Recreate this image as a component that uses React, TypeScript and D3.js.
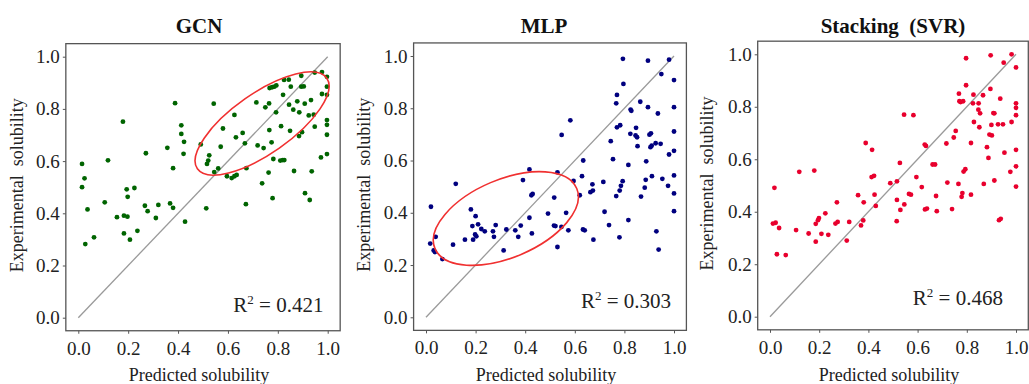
import React, { useEffect, useRef } from 'react';
import * as d3 from 'd3';

type Pt = [number, number]; // [predicted, experimental]

const panelTitles = ['GCN', 'MLP', 'Stacking (SVR)'];
const r2Values = ['0.421', '0.303', '0.468'];
const tickValues = [0, 0.2, 0.4, 0.6, 0.8, 1.0];
const xLabel = 'Predicted solubility';
const yLabel = 'Experimental  solubility';

const gcnPoints: Pt[] = [
  [0.015, 0.589], [0.025, 0.534], [0.119, 0.603], [0.179, 0.751], [0.271, 0.630], [0.357, 0.651],
  [0.380, 0.573], [0.388, 0.822], [0.413, 0.737], [0.413, 0.704], [0.424, 0.674], [0.422, 0.628],
  [0.491, 0.664], [0.543, 0.820], [0.525, 0.622], [0.521, 0.602], [0.516, 0.589], [0.545, 0.558],
  [0.561, 0.572], [0.571, 0.655], [0.580, 0.725], [0.626, 0.777], [0.632, 0.691], [0.659, 0.708],
  [0.668, 0.668], [0.674, 0.573], [0.714, 0.825], [0.719, 0.660], [0.743, 0.650], [0.750, 0.806],
  [0.765, 0.821], [0.767, 0.880], [0.777, 0.883], [0.786, 0.885], [0.794, 0.890], [0.766, 0.719],
  [0.775, 0.672], [0.782, 0.608], [0.793, 0.787], [0.813, 0.734], [0.821, 0.854], [0.825, 0.911],
  [0.844, 0.912], [0.845, 0.816], [0.852, 0.885], [0.862, 0.797], [0.849, 0.716], [0.820, 0.604],
  [0.810, 0.602], [0.826, 0.604], [0.886, 0.787], [0.878, 0.829], [0.894, 0.927], [0.894, 0.885],
  [0.904, 0.886], [0.908, 0.820], [0.933, 0.834], [0.885, 0.696], [0.897, 0.711], [0.865, 0.562],
  [0.924, 0.775], [0.944, 0.778], [0.948, 0.939], [0.977, 0.941], [0.997, 0.923], [0.997, 0.885],
  [0.977, 0.857], [0.997, 0.854], [0.948, 0.732], [0.997, 0.757], [0.997, 0.739], [0.997, 0.701],
  [0.997, 0.627], [0.973, 0.614], [0.936, 0.561], [0.763, 0.556], [0.596, 0.542], [0.615, 0.535],
  [0.626, 0.542], [0.635, 0.547], [0.737, 0.515],
  [0.015, 0.500], [0.037, 0.415], [0.028, 0.282], [0.063, 0.308], [0.106, 0.442], [0.155, 0.385],
  [0.183, 0.391], [0.197, 0.387], [0.183, 0.323], [0.207, 0.299], [0.237, 0.333], [0.194, 0.492],
  [0.198, 0.463], [0.225, 0.497], [0.267, 0.429], [0.278, 0.408], [0.311, 0.382], [0.321, 0.432],
  [0.368, 0.438], [0.380, 0.421], [0.428, 0.368], [0.513, 0.419], [0.672, 0.435], [0.779, 0.458],
  [0.909, 0.477], [0.928, 0.451],
];

const mlpPoints: Pt[] = [
  [0.794, 0.989], [0.895, 0.982], [0.980, 0.986], [0.949, 0.931], [1.000, 0.908], [0.796, 0.893],
  [0.770, 0.851], [0.767, 0.819], [0.864, 0.825], [0.825, 0.795], [0.828, 0.790], [0.895, 0.804],
  [0.935, 0.780], [1.000, 0.804], [0.582, 0.754], [0.547, 0.698], [0.770, 0.727], [0.783, 0.735],
  [0.847, 0.725], [0.824, 0.702], [0.845, 0.696], [0.851, 0.689], [0.901, 0.699], [0.907, 0.704],
  [0.853, 0.655], [0.905, 0.651], [0.910, 0.657], [0.926, 0.666], [0.946, 0.664], [1.000, 0.711],
  [0.745, 0.674], [0.754, 0.605], [0.816, 0.583], [0.888, 0.597], [0.980, 0.623], [1.000, 0.637],
  [0.634, 0.600], [0.417, 0.566], [0.530, 0.555], [0.391, 0.525], [0.595, 0.522], [0.629, 0.540],
  [0.715, 0.518], [0.793, 0.521], [0.886, 0.526], [0.911, 0.540], [0.953, 0.530], [1.000, 0.543],
  [0.120, 0.511],
  [0.020, 0.423], [0.017, 0.282], [0.031, 0.256], [0.036, 0.250], [0.039, 0.308], [0.066, 0.223],
  [0.109, 0.278], [0.157, 0.297], [0.181, 0.413], [0.200, 0.387], [0.187, 0.349], [0.210, 0.356],
  [0.190, 0.297], [0.198, 0.317], [0.203, 0.310], [0.223, 0.338], [0.237, 0.329], [0.270, 0.329],
  [0.274, 0.308], [0.281, 0.353], [0.313, 0.256], [0.324, 0.336], [0.360, 0.333], [0.372, 0.308],
  [0.382, 0.351], [0.417, 0.381], [0.427, 0.321], [0.425, 0.467], [0.430, 0.472], [0.492, 0.397],
  [0.517, 0.458], [0.516, 0.351], [0.522, 0.349], [0.530, 0.269], [0.546, 0.346], [0.565, 0.400],
  [0.574, 0.333], [0.620, 0.467], [0.633, 0.336], [0.640, 0.333], [0.663, 0.479], [0.673, 0.485],
  [0.671, 0.509], [0.675, 0.297], [0.720, 0.404], [0.738, 0.353], [0.767, 0.464], [0.781, 0.485],
  [0.786, 0.503], [0.780, 0.306], [0.816, 0.372], [0.867, 0.462], [0.882, 0.496], [0.929, 0.329],
  [0.938, 0.259], [0.976, 0.503], [1.000, 0.474], [1.000, 0.406],
];

const svrPoints: Pt[] = [
  [0.797, 0.985], [0.897, 0.996], [0.982, 1.000], [0.950, 0.968], [1.000, 0.950], [0.797, 0.882],
  [0.896, 0.868], [0.768, 0.850], [0.827, 0.846], [0.866, 0.844], [0.770, 0.821], [0.775, 0.818],
  [0.785, 0.821], [0.825, 0.813], [0.848, 0.813], [0.936, 0.831], [1.000, 0.813], [1.000, 0.796],
  [0.847, 0.789], [0.854, 0.775], [0.908, 0.776], [0.912, 0.775], [1.000, 0.768], [0.545, 0.770],
  [0.583, 0.768], [0.829, 0.742], [0.851, 0.722], [0.900, 0.731], [0.927, 0.733], [0.947, 0.733],
  [0.982, 0.742], [0.755, 0.708], [0.747, 0.683], [0.892, 0.694], [0.902, 0.691], [0.389, 0.662],
  [0.415, 0.636], [0.629, 0.656], [0.634, 0.651], [0.717, 0.660], [0.817, 0.662], [0.882, 0.646],
  [1.000, 0.636], [0.953, 0.625], [0.888, 0.605], [0.528, 0.586], [0.661, 0.580], [0.671, 0.580],
  [0.119, 0.552], [0.180, 0.557], [0.413, 0.532], [0.423, 0.537], [0.595, 0.532], [0.787, 0.553],
  [0.794, 0.562], [0.977, 0.552], [1.000, 0.573], [0.489, 0.509], [0.516, 0.516], [0.721, 0.511],
  [0.766, 0.506], [0.869, 0.506], [0.912, 0.519],
  [0.018, 0.491], [0.012, 0.355], [0.023, 0.358], [0.037, 0.338], [0.028, 0.238], [0.064, 0.235],
  [0.106, 0.330], [0.157, 0.317], [0.186, 0.286], [0.186, 0.354], [0.195, 0.368], [0.199, 0.376],
  [0.209, 0.316], [0.225, 0.394], [0.237, 0.312], [0.266, 0.355], [0.275, 0.361], [0.272, 0.436],
  [0.312, 0.290], [0.322, 0.361], [0.358, 0.463], [0.370, 0.348], [0.379, 0.367], [0.381, 0.436],
  [0.425, 0.465], [0.430, 0.422], [0.515, 0.364], [0.516, 0.445], [0.530, 0.407], [0.546, 0.428],
  [0.565, 0.468], [0.573, 0.465], [0.617, 0.494], [0.630, 0.409], [0.638, 0.412], [0.675, 0.460],
  [0.678, 0.402], [0.740, 0.410], [0.782, 0.471], [0.779, 0.457], [0.817, 0.465], [0.931, 0.368],
  [0.938, 0.373], [1.000, 0.496],
];

const panelPoints = [gcnPoints, mlpPoints, svrPoints];

// pixel placement of each panel (where 0 and 1 land), plus decorations
const panelLayout = [
  { x0: 78.3, x1: 327.7, y0: 317.7, y1: 56.7, color: '#006400', r2At: [0.983, 0.023], yLabelDx: 43, titleX: 199,
    ellipse: { cx: 0.737, cy: 0.744, rx: 79, ry: 30, angle: -35 } },
  { x0: 426, x1: 674, y0: 317.3, y1: 56, color: '#00007f', r2At: [0.988, 0.034], yLabelDx: 44, titleX: 544,
    ellipse: { cx: 0.322, cy: 0.378, rx: 77, ry: 39, angle: -23 } },
  { x0: 770, x1: 1016, y0: 316.7, y1: 54.3, color: '#e8002d', r2At: [0.947, 0.045], yLabelDx: 45, titleX: 893,
    ellipse: null },
];

const FONT = '"Liberation Serif", "Times New Roman", serif';

export default function App() {
  const svgRef = useRef<SVGSVGElement>(null);

  useEffect(() => {
    if (!svgRef.current) return;
    const svg = d3.select(svgRef.current);
    svg.selectAll('*').remove();

    panelLayout.forEach((p, i) => {
      const x = d3.scaleLinear().domain([0, 1]).range([p.x0, p.x1]);
      const y = d3.scaleLinear().domain([0, 1]).range([p.y0, p.y1]);
      const left = x(-0.05), right = x(1.05), top = y(1.05), bottom = y(-0.05);
      const g = svg.append('g');

      // Axes
      const xAxis = g.append('g')
        .attr('transform', `translate(0,${bottom})`)
        .call(d3.axisBottom(x).tickValues(tickValues).tickFormat(d3.format('.1f')).tickSize(3).tickPadding(7.5));
      const yAxis = g.append('g')
        .attr('transform', `translate(${left},0)`)
        .call(d3.axisLeft(y).tickValues(tickValues).tickFormat(d3.format('.1f')).tickSize(3).tickPadding(3));
      [xAxis, yAxis].forEach(ax => {
        ax.select('.domain').remove();
        ax.selectAll('line').attr('stroke', '#555').attr('stroke-width', 1);
        ax.selectAll('text')
          .attr('fill', '#222')
          .style('font-family', FONT)
          .style('font-size', '19px');
      });

      // Cadre
      g.append('rect')
        .attr('x', left).attr('y', top)
        .attr('width', right - left).attr('height', bottom - top)
        .attr('fill', 'none')
        .attr('stroke', '#555')
        .attr('stroke-width', 1.3);

      // Diagonale y = x
      g.append('path')
        .datum([[0, 0], [1, 1]] as Pt[])
        .attr('fill', 'none')
        .attr('stroke', '#9a9a9a')
        .attr('stroke-width', 1.3)
        .attr('d', d3.line<Pt>().x(d => x(d[0])).y(d => y(d[1])));

      // Points
      g.selectAll('.dot')
        .data(panelPoints[i])
        .enter()
        .append('circle')
        .attr('class', 'dot')
        .attr('cx', d => x(d[0]))
        .attr('cy', d => y(d[1]))
        .attr('r', 2.4)
        .attr('fill', p.color);

      // Ellipse rouge
      if (p.ellipse) {
        const cx = x(p.ellipse.cx), cy = y(p.ellipse.cy);
        g.append('ellipse')
          .attr('cx', cx).attr('cy', cy)
          .attr('rx', p.ellipse.rx).attr('ry', p.ellipse.ry)
          .attr('transform', `rotate(${p.ellipse.angle},${cx},${cy})`)
          .attr('fill', 'none')
          .attr('stroke', '#f03030')
          .attr('stroke-width', 1.6);
      }

      // R²
      const r2 = g.append('text')
        .attr('x', x(p.r2At[0]))
        .attr('y', y(p.r2At[1]))
        .attr('text-anchor', 'end')
        .attr('fill', '#222')
        .style('font-family', FONT)
        .style('font-size', '21px');
      r2.append('tspan').text('R');
      r2.append('tspan').attr('dy', -8).style('font-size', '13px').text('2');
      r2.append('tspan').attr('dy', 8).text(` = ${r2Values[i]}`);

      // Titres et labels
      g.append('text')
        .attr('x', p.titleX)
        .attr('y', 33.3)
        .attr('text-anchor', 'middle')
        .attr('fill', '#111')
        .style('font-family', FONT)
        .style('font-size', '21px')
        .style('font-weight', 'bold')
        .style('white-space', 'pre')
        .text(panelTitles[i].replace(' ', '  '));

      g.append('text')
        .attr('x', (p.x0 + p.x1) / 2 - 4)
        .attr('y', 381)
        .attr('text-anchor', 'middle')
        .attr('fill', '#222')
        .style('font-family', FONT)
        .style('font-size', '18px')
        .text(xLabel);

      g.append('text')
        .attr('transform', `translate(${left - p.yLabelDx},${(top + bottom) / 2 - 2}) rotate(-90)`)
        .attr('text-anchor', 'middle')
        .attr('fill', '#222')
        .style('font-family', FONT)
        .style('font-size', '18px')
        .style('white-space', 'pre')
        .text(yLabel);
    });
  }, []);

  return (
    <svg
      ref={svgRef}
      width={1029}
      height={384}
      style={{ position: 'absolute', left: 0, top: 0, background: '#fff' }}
    />
  );
}
